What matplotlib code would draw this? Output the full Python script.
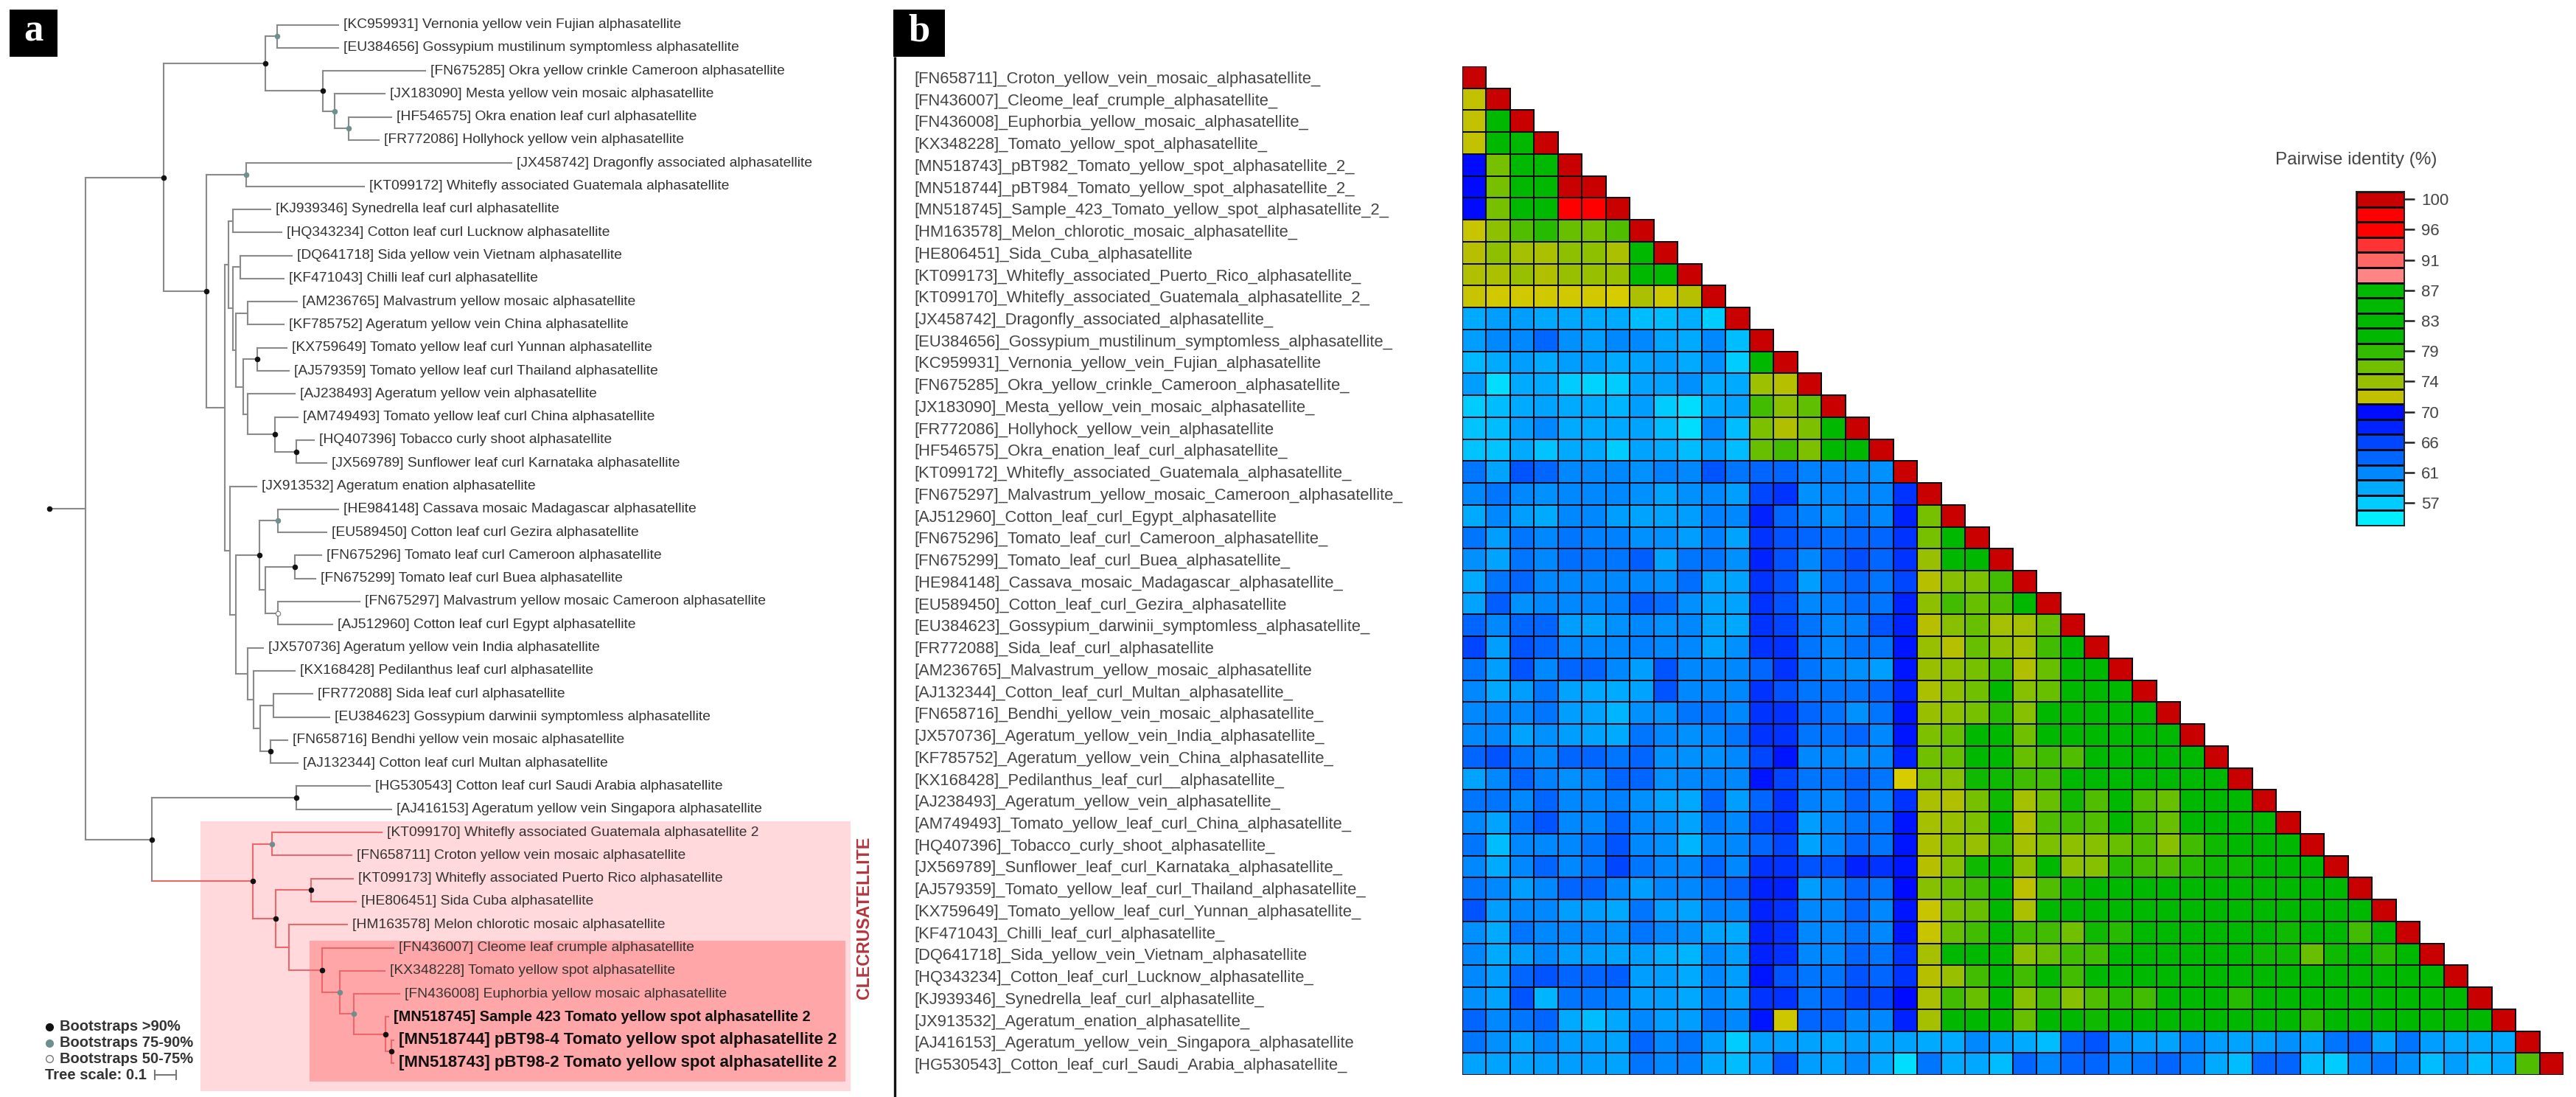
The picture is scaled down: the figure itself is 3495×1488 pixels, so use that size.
import numpy as np
import matplotlib
matplotlib.use("Agg")
import matplotlib.pyplot as plt
from matplotlib.colors import LinearSegmentedColormap, Normalize
from matplotlib.patches import Rectangle

W, H, DPI = 3495, 1488, 100
plt.rcParams['font.family'] = ['Liberation Sans', 'DejaVu Sans']

# ---------- panel b data ----------
row_labels = """[FN658711]_Croton_yellow_vein_mosaic_alphasatellite_
[FN436007]_Cleome_leaf_crumple_alphasatellite_
[FN436008]_Euphorbia_yellow_mosaic_alphasatellite_
[KX348228]_Tomato_yellow_spot_alphasatellite_
[MN518743]_pBT982_Tomato_yellow_spot_alphasatellite_2_
[MN518744]_pBT984_Tomato_yellow_spot_alphasatellite_2_
[MN518745]_Sample_423_Tomato_yellow_spot_alphasatellite_2_
[HM163578]_Melon_chlorotic_mosaic_alphasatellite_
[HE806451]_Sida_Cuba_alphasatellite
[KT099173]_Whitefly_associated_Puerto_Rico_alphasatellite_
[KT099170]_Whitefly_associated_Guatemala_alphasatellite_2_
[JX458742]_Dragonfly_associated_alphasatellite_
[EU384656]_Gossypium_mustilinum_symptomless_alphasatellite_
[KC959931]_Vernonia_yellow_vein_Fujian_alphasatellite
[FN675285]_Okra_yellow_crinkle_Cameroon_alphasatellite_
[JX183090]_Mesta_yellow_vein_mosaic_alphasatellite_
[FR772086]_Hollyhock_yellow_vein_alphasatellite
[HF546575]_Okra_enation_leaf_curl_alphasatellite_
[KT099172]_Whitefly_associated_Guatemala_alphasatellite_
[FN675297]_Malvastrum_yellow_mosaic_Cameroon_alphasatellite_
[AJ512960]_Cotton_leaf_curl_Egypt_alphasatellite
[FN675296]_Tomato_leaf_curl_Cameroon_alphasatellite_
[FN675299]_Tomato_leaf_curl_Buea_alphasatellite_
[HE984148]_Cassava_mosaic_Madagascar_alphasatellite_
[EU589450]_Cotton_leaf_curl_Gezira_alphasatellite
[EU384623]_Gossypium_darwinii_symptomless_alphasatellite_
[FR772088]_Sida_leaf_curl_alphasatellite
[AM236765]_Malvastrum_yellow_mosaic_alphasatellite
[AJ132344]_Cotton_leaf_curl_Multan_alphasatellite_
[FN658716]_Bendhi_yellow_vein_mosaic_alphasatellite_
[JX570736]_Ageratum_yellow_vein_India_alphasatellite_
[KF785752]_Ageratum_yellow_vein_China_alphasatellite_
[KX168428]_Pedilanthus_leaf_curl__alphasatellite_
[AJ238493]_Ageratum_yellow_vein_alphasatellite_
[AM749493]_Tomato_yellow_leaf_curl_China_alphasatellite_
[HQ407396]_Tobacco_curly_shoot_alphasatellite_
[JX569789]_Sunflower_leaf_curl_Karnataka_alphasatellite_
[AJ579359]_Tomato_yellow_leaf_curl_Thailand_alphasatellite_
[KX759649]_Tomato_yellow_leaf_curl_Yunnan_alphasatellite_
[KF471043]_Chilli_leaf_curl_alphasatellite_
[DQ641718]_Sida_yellow_vein_Vietnam_alphasatellite
[HQ343234]_Cotton_leaf_curl_Lucknow_alphasatellite_
[KJ939346]_Synedrella_leaf_curl_alphasatellite_
[JX913532]_Ageratum_enation_alphasatellite_
[AJ416153]_Ageratum_yellow_vein_Singapora_alphasatellite
[HG530543]_Cotton_leaf_curl_Saudi_Arabia_alphasatellite_""".split("\n")

r01 = [100]
r02 = [72, 100]
r03 = [72, 84, 100]
r04 = [72, 84, 84, 100]
r05 = [70, 76, 84, 84, 100]
r06 = [70, 76, 84, 84, 100, 100]
r07 = [70, 76, 84, 84, 96, 96, 100]
r08 = [71.7, 74.8, 77.5, 79, 76.7, 76, 77.5, 100]
r09 = [72.6, 74.8, 73.6, 73.3, 74.8, 74.8, 73.3, 84, 100]
r10 = [73, 73.3, 74.2, 73, 74.2, 74.2, 74.2, 84, 84, 100]
r11 = [71.7, 71.3, 71.3, 71.3, 71.3, 71.3, 71, 73.3, 71.5, 72.6, 100]
r12 = [59.2, 60, 60, 59.3, 59.3, 59.2, 59.2, 58, 58, 59, 57, 100]
r13 = [60, 61.3, 61.3, 63.5, 60.8, 60, 61.3, 61.3, 59.5, 59.2, 61.3, 58, 100]
r14 = [58.3, 59.2, 60, 59.2, 60, 60, 59.2, 59.6, 60, 59.2, 60.8, 57, 84, 100]
r15 = [60, 56, 59.2, 59.2, 57, 56.6, 57, 59.6, 59.6, 60.8, 59.2, 59.2, 74, 72.6, 100]
r16 = [57, 58, 59.2, 59.6, 59.2, 59.2, 58.5, 60, 57, 56, 59.2, 59.6, 78, 75, 77, 100]
r17 = [57.6, 58, 60, 61.3, 59.2, 59.2, 59.3, 59.6, 58, 56, 61.3, 58, 75.7, 73, 75.7, 84, 100]
r18 = [57.6, 57.6, 59.2, 57.6, 59.2, 59.2, 57, 59.6, 59.2, 58, 60, 58, 76.7, 78, 75.7, 84, 84, 100]
r19 = [62.5, 59.6, 64.6, 63.5, 61.3, 61.3, 61.3, 60.8, 61.8, 61.3, 64.6, 62.5, 63.5, 63.5, 61.8, 61.8, 61.3, 60.8, 100]
r20 = [61.3, 62.5, 61.3, 60.8, 61.3, 61.3, 61.3, 60.8, 59.6, 60.8, 61.3, 60, 65.6, 66.7, 60.8, 61.3, 61.3, 61.3, 66.7, 100]
r21 = [59.2, 61.3, 60, 59.2, 61.3, 61.3, 60, 59.6, 59.6, 60, 61.8, 61.3, 67.8, 63.5, 61.8, 60.8, 62.5, 61.3, 67.8, 76, 100]
r22 = [62.5, 60, 62.5, 61.3, 62.5, 61.8, 61.8, 60.8, 60.8, 60, 61.8, 59.6, 66.7, 64.6, 63.5, 63, 63.5, 63.5, 66.7, 76, 84, 100]
r23 = [60.8, 59.6, 62.5, 61.3, 63, 62.5, 62.5, 64, 59.6, 62.5, 62.5, 60.8, 67.8, 64.6, 61.3, 63.5, 65, 63.5, 66.7, 74.2, 84, 84, 100]
r24 = [59.2, 62.5, 63.5, 61.3, 61.3, 61.3, 61.3, 61.3, 60.8, 63, 59.6, 59.6, 66.7, 64.6, 60, 62.5, 63.5, 62.5, 65.6, 72.6, 75.2, 75.7, 78, 100]
r25 = [59.6, 64, 60.8, 61.3, 61.3, 61.3, 61.8, 64, 63, 60.8, 59.6, 59.6, 66.7, 64.6, 61.3, 61.8, 63, 62.5, 67.8, 74.8, 78, 76.7, 77.5, 84, 100]
r26 = [63.5, 61.3, 63.5, 63.5, 60, 59.6, 60.8, 61.3, 60.8, 61.3, 59.6, 59.3, 66.7, 65.6, 62.5, 61.3, 61.8, 64.6, 67.8, 72.6, 75.2, 76.7, 73.6, 73.6, 76.7, 100]
r27 = [65.6, 60, 64.6, 63.5, 61.3, 61.3, 61.3, 61.8, 61.3, 61.3, 59.6, 60.8, 66.7, 66.7, 62.5, 61.3, 62.5, 62.5, 69, 74.2, 72.6, 76.7, 74.8, 73.6, 78, 84, 100]
r28 = [62.5, 60, 64.6, 61.3, 63.5, 63.5, 61.3, 60, 64.6, 61.3, 61.3, 61.3, 63.5, 66.7, 62.5, 61.3, 60.8, 60, 69, 74.2, 74.8, 76, 78, 73, 76.7, 84, 84, 100]
r29 = [61.3, 59.3, 60, 62.5, 59.6, 59.3, 59.2, 59.6, 64.6, 61.3, 61.3, 61.3, 66.7, 64.6, 62.5, 62.5, 62.5, 63.5, 67.8, 73.3, 74.8, 76.4, 84, 75.2, 76.7, 84, 84, 84, 100]
r30 = [61.3, 61.3, 61.3, 62.5, 60, 59.6, 58.5, 60.8, 60.8, 62.5, 62.5, 61.3, 66.7, 66.7, 63.5, 62.5, 60.8, 62.5, 69, 74.2, 74.8, 76, 79, 75.2, 84, 84, 84, 84, 84, 100]
r31 = [61.3, 61.3, 59.6, 60.8, 60, 59.6, 59.2, 62.5, 61.3, 60.8, 61.3, 62.5, 66.7, 66.7, 62.5, 62.5, 63.5, 61.3, 69, 75.7, 76.7, 84, 84, 76.4, 84, 84, 84, 84, 84, 84, 100]
r32 = [63.5, 64.6, 62.5, 61.3, 63.5, 63.5, 62.5, 63.5, 60.8, 60.8, 60.8, 61.3, 65.6, 69, 61.3, 61.3, 60.8, 61.3, 67.8, 76.4, 76.7, 84, 84, 76.7, 78, 77.5, 84, 84, 84, 84, 84, 100]
r33 = [59.6, 61.3, 63.5, 61.8, 60.8, 61.3, 63.5, 63.5, 60.8, 61.3, 61.8, 61.3, 69, 65.6, 62.5, 62.5, 63.5, 62.5, 71, 75.7, 75.2, 80, 80, 78, 78, 84, 84, 84, 84, 84, 84, 84, 100]
r34 = [62.5, 62.5, 61.3, 63.5, 61.3, 61.3, 61.8, 60.8, 59.6, 59.3, 63.5, 60, 63.5, 66.7, 61.8, 61.3, 63.5, 61.8, 66.7, 73.3, 73, 76, 80, 73.6, 76.7, 80, 77.5, 84, 77.5, 76.7, 84, 84, 84, 100]
r35 = [61.3, 59.6, 62.5, 64.6, 61.3, 61.3, 63.5, 61.3, 60.8, 59.6, 62.5, 61.3, 65.6, 66.7, 60, 61.3, 62.5, 62.5, 69, 73.6, 74.2, 75.7, 84, 73, 77.5, 78, 77.5, 84, 78, 76.7, 84, 84, 84, 84, 100]
r36 = [62.5, 58, 61.3, 61.3, 61.3, 62.5, 64.6, 61.3, 60.8, 58.5, 61.3, 61.3, 63.5, 65.6, 59.6, 61.3, 63.5, 62.5, 69, 73.3, 74.8, 74.2, 78, 73.6, 75.7, 74.8, 75.2, 76.7, 77.5, 75.2, 78, 80, 84, 84, 84, 100]
r37 = [61.3, 59.2, 61.3, 63.5, 61.3, 62.5, 65.6, 62.5, 61.3, 61.3, 63.5, 61.3, 66.7, 66.7, 64.6, 64.6, 67.8, 66.7, 69, 72.6, 75.2, 80, 84, 74.8, 84, 74.8, 75.2, 79, 78, 77.5, 79, 80, 80, 84, 84, 84, 100]
r38 = [62.5, 61.3, 60, 61.3, 63.5, 63.5, 61.3, 60, 61.3, 61.3, 62.5, 63.5, 67.8, 67.8, 60, 61.3, 63.5, 62.5, 70, 75.2, 76.7, 78, 84, 72.3, 77.5, 80, 84, 84, 84, 84, 84, 84, 84, 84, 84, 84, 84, 100]
r39 = [64.6, 60, 61.3, 61.3, 60, 60, 59.3, 62.5, 60, 59.6, 61.8, 61.3, 67.8, 66.7, 61.3, 61.3, 63.5, 61.3, 69, 71.7, 75.7, 76.7, 84, 73.3, 84, 84, 84, 84, 84, 84, 84, 84, 84, 84, 84, 84, 84, 84, 100]
r40 = [60.8, 59.2, 62.5, 61.3, 61.3, 61.3, 60.8, 62.5, 61.3, 60.8, 59.6, 59.2, 67.8, 66.7, 61.3, 61.3, 62.5, 61.3, 69, 71.7, 76.7, 78, 84, 78, 78, 76.4, 80, 79, 84, 84, 84, 84, 84, 84, 80, 84, 84, 78, 84, 100]
r41 = [61.3, 59.2, 60, 61.3, 60, 60, 59.6, 60, 59, 58.5, 61.3, 60, 67.8, 66.7, 61.3, 61.3, 63.5, 62.5, 66.7, 73.6, 84, 84, 84, 74.8, 76.7, 78, 78, 84, 84, 84, 84, 84, 84, 80, 80, 76.7, 80, 84, 79, 84, 100]
r42 = [61.3, 60, 63.5, 64.6, 63.5, 63.5, 64, 60, 60, 59.2, 61.3, 60, 69, 64.6, 62.5, 62.5, 64.6, 63.5, 66.7, 72.6, 74.2, 78, 84, 78, 84, 78, 84, 84, 84, 84, 84, 84, 84, 84, 84, 84, 84, 84, 84, 84, 84, 100]
r43 = [60.8, 59.6, 64.6, 58.5, 62.5, 62.5, 61.8, 60, 60, 59.3, 61.3, 60, 66.7, 66.7, 62.5, 63.5, 65.6, 65.6, 70, 73.3, 78, 76.7, 84, 75.2, 78, 75.2, 77.5, 79, 78, 84, 84, 84, 79, 84, 84, 84, 84, 84, 84, 84, 84, 84, 100]
r44 = [63.5, 61.3, 62.5, 63.5, 59.2, 58, 59.3, 61.3, 60, 60, 62.5, 61.3, 69, 71.5, 63.5, 63.5, 61.3, 61.3, 67.8, 73.6, 84, 84, 84, 76.7, 84, 84, 80, 84, 84, 84, 84, 84, 84, 84, 84, 79, 84, 84, 84, 84, 84, 84, 84, 100]
r45 = [62.5, 60.8, 59.6, 61.3, 60, 60, 59.6, 63.5, 61.3, 62.5, 60, 57, 60, 60, 59.6, 59.3, 60, 59.6, 59.6, 59.2, 59.2, 61.3, 60, 59.2, 58, 63.5, 64.6, 60.8, 60, 59.6, 61.3, 60, 59.6, 60, 60.8, 59.6, 62.5, 63.5, 59.6, 62.5, 60, 59.2, 59.2, 59.2, 100]
r46 = [59.6, 59.6, 59.6, 60, 60, 60, 59.6, 62.5, 61.3, 61.8, 59.3, 58, 60, 64.6, 60, 59.6, 61.3, 59.3, 56, 62.5, 59.2, 59.3, 58, 63.5, 61.3, 63.5, 63.5, 61.3, 62.5, 63.5, 61.8, 59.2, 58, 63.5, 63.5, 58, 57, 61.3, 62.5, 60.8, 58, 60, 58, 59.2, 77.5, 100]
identity_rows = [r01, r02, r03, r04, r05, r06, r07, r08, r09, r10, r11, r12, r13, r14, r15, r16,
                 r17, r18, r19, r20, r21, r22, r23, r24, r25, r26, r27, r28, r29, r30, r31, r32,
                 r33, r34, r35, r36, r37, r38, r39, r40, r41, r42, r43, r44, r45, r46]

bar_ticks = [100, 96, 91, 87, 83, 79, 74, 70, 66, 61, 57]
bar_levels = [100, 97.9, 95.7, 93.6, 91.4, 89.3, 87.1, 84.9, 82.8, 80.6, 78.5, 76.4, 74.2, 72.1,
              69.9, 67.8, 65.6, 63.5, 61.3, 59.2, 57, 54.9]

# ---------- panel a data: (leaf label | None, branch length, support, children) ----------
def L(name, length):
    return (name, length, None, [])
def N(length, support, *kids):
    return (None, length, support, list(kids))

clecru = N(175, 'b',
    N(33, 'g', L('[KT099170] Whitefly associated Guatemala alphasatellite 2', 190),
               L('[FN658711] Croton yellow vein mosaic alphasatellite', 138)),
    N(40, 'b',
      N(61, 'b', L('[KT099173] Whitefly associated Puerto Rico alphasatellite', 72),
                 L('[HE806451] Sida Cuba alphasatellite', 77)),
      N(23, None,
        L('[HM163578] Melon chlorotic mosaic alphasatellite', 100),
        N(57, 'b',
          L('[FN436007] Cleome leaf crumple alphasatellite', 123),
          N(30, 'g',
            L('[KX348228] Tomato yellow spot alphasatellite', 78),
            N(24, 'g',
              L('[FN436008] Euphorbia yellow mosaic alphasatellite', 79),
              N(56, 'b',
                L('[MN518745] Sample 423 Tomato yellow spot alphasatellite 2', 5),
                N(10, 'b', L('[MN518744] pBT98-4 Tomato yellow spot alphasatellite 2', 3),
                           L('[MN518743] pBT98-2 Tomato yellow spot alphasatellite 2', 3)))))))))

tree = N(0, 'b',
  N(62, None,
    N(135, 'b',
      N(176, 'b',
        N(21, 'g', L('[KC959931] Vernonia yellow vein Fujian alphasatellite', 106),
                   L('[EU384656] Gossypium mustilinum symptomless alphasatellite', 106)),
        N(100, 'b',
          L('[FN675285] Okra yellow crinkle Cameroon alphasatellite', 177),
          N(20, 'g',
            L('[JX183090] Mesta yellow vein mosaic alphasatellite', 87),
            N(25, 'g', L('[HF546575] Okra enation leaf curl alphasatellite', 74),
                       L('[FR772086] Hollyhock yellow vein alphasatellite', 52))))),
      N(75, 'b',
        N(68, 'g', L('[JX458742] Dragonfly associated alphasatellite', 460),
                   L('[KT099172] Whitefly associated Guatemala alphasatellite', 205)),
        N(31, None,
          N(7, None,
            N(7, None, L('[KJ939346] Synedrella leaf curl alphasatellite', 66),
                       L('[HQ343234] Cotton leaf curl Lucknow alphasatellite', 85)),
            N(7, None,
              N(13, None, L('[DQ641718] Sida yellow vein Vietnam alphasatellite', 90),
                          L('[KF471043] Chilli leaf curl alphasatellite', 75)),
              N(6, None,
                N(20, None, L('[AM236765] Malvastrum yellow mosaic alphasatellite', 85),
                            L('[KF785752] Ageratum yellow vein China alphasatellite', 62)),
                N(12, None,
                  N(25, 'b', L('[KX759649] Tomato yellow leaf curl Yunnan alphasatellite', 50),
                             L('[AJ579359] Tomato yellow leaf curl Thailand alphasatellite', 55)),
                  N(8, None,
                    L('[AJ238493] Ageratum yellow vein alphasatellite', 82),
                    N(47, 'b',
                      L('[AM749493] Tomato yellow leaf curl China alphasatellite', 40),
                      N(37, 'b', L('[HQ407396] Tobacco curly shoot alphasatellite', 31),
                                 L('[JX569789] Sunflower leaf curl Karnataka alphasatellite', 53)))))))),
          N(10, None,
            L('[JX913532] Ageratum enation alphasatellite', 45),
            N(10, None,
              N(40, 'b',
                N(32, 'g', L('[HE984148] Cassava mosaic Madagascar alphasatellite', 105),
                           L('[EU589450] Cotton leaf curl Gezira alphasatellite', 85)),
                N(10, None,
                  N(52, 'b', L('[FN675296] Tomato leaf curl Cameroon alphasatellite', 45),
                             L('[FN675299] Tomato leaf curl Buea alphasatellite', 35)),
                  N(22, 'w', L('[FN675297] Malvastrum yellow mosaic Cameroon alphasatellite', 142),
                             L('[AJ512960] Cotton leaf curl Egypt alphasatellite', 95)))),
              N(20, None,
                L('[JX570736] Ageratum yellow vein India alphasatellite', 27),
                N(10, None,
                  L('[KX168428] Pedilanthus leaf curl alphasatellite', 72),
                  N(12, None,
                    N(22, None, L('[FR772088] Sida leaf curl alphasatellite', 68),
                                L('[EU384623] Gossypium darwinii symptomless alphasatellite', 98)),
                    N(18, 'b', L('[FN658716] Bendhi yellow vein mosaic alphasatellite', 29),
                               L('[AJ132344] Cotton leaf curl Multan alphasatellite', 47)))))))))),
    N(115, 'b',
      N(250, 'b', L('[HG530543] Cotton leaf curl Saudi Arabia alphasatellite', 128),
                  L('[AJ416153] Ageratum yellow vein Singapora alphasatellite', 165)),
      clecru)))

bootstrap_legend = [('b', 'Bootstraps >90%'), ('g', 'Bootstraps 75-90%'), ('w', 'Bootstraps 50-75%')]
cluster_name = 'CLECRUSATELLITE'

# ---------- figure ----------
fig = plt.figure(figsize=(W / DPI, H / DPI), dpi=DPI, facecolor='white')
px = fig.add_axes([0, 0, 1, 1])
px.set_xlim(0, W); px.set_ylim(H, 0); px.axis('off')

def box(x0, y0, x1, y1):
    return [x0 / W, 1 - y1 / H, (x1 - x0) / W, (y1 - y0) / H]

# panel tags and divider
for x0, x1, tag in [(13, 78, 'a'), (1212, 1282, 'b')]:
    px.add_patch(Rectangle((x0, 13), x1 - x0, 64, fc='black', ec='none', zorder=5))
    px.text((x0 + x1) / 2, 43, tag, color='white', fontsize=38, fontweight='bold',
            family='Liberation Serif', ha='center', va='center', zorder=6)
px.plot([1214, 1214], [77, H], color='#111111', lw=2.4, solid_capstyle='butt')

# clade shading
px.add_patch(Rectangle((272, 1114), 882, 366, fc='#FFD9DC', ec='none', zorder=0))
px.add_patch(Rectangle((420, 1276), 727, 191, fc='#FFA6A8', ec='none', zorder=0.5))
px.text(1172, 1245, cluster_name, rotation=90, color='#B5343C', fontsize=16.7, fontweight='bold',
        ha='center', va='center')

# tree
TREE_X0, TREE_SCALE = 67.0, 1 / 1.275
LEAF_Y0, LEAF_DY = 33.5, 31.3
GREY, RED = '#8A8A8A', '#E8686C'
SUP = {'b': dict(mfc='#111111', mec='#111111'),
       'g': dict(mfc='#6E8F8F', mec='#6E8F8F'),
       'w': dict(mfc='white', mec='#777777')}
counter = [0]

def draw(node, x_parent, colour):
    name, length, sup, kids = node
    x = x_parent + length * TREE_SCALE
    c = RED if node is clecru else colour
    if not kids:
        y = LEAF_Y0 + LEAF_DY * counter[0]
        counter[0] += 1
        bold = name.startswith('[MN')
        size = 13.9
        if bold:
            size = 14.4 if 'Sample' in name else 16.0
        px.text(x + 7, y, name, fontsize=size, va='center', ha='left',
                color='#111111' if bold else '#333333', fontweight='bold' if bold else 'normal',
                zorder=4)
    else:
        ys = [draw(k, x, c) for k in kids]
        y = (ys[0] + ys[-1]) / 2
        px.plot([x, x], [ys[0], ys[-1]], color=c, lw=1.5, solid_capstyle='projecting', zorder=2)
        if sup:
            px.plot([x], [y], 'o', ms=4.6, mew=0.8, zorder=3, **SUP[sup])
    px.plot([x_parent, x], [y, y], color=colour if node is not clecru else RED, lw=1.5, zorder=2)
    return y

draw(tree, TREE_X0, GREY)

# tree legend
for i, (s, t) in enumerate(bootstrap_legend):
    yy = 1393 + 21.7 * i
    px.plot([67], [yy], 'o', ms=7, mew=1, **SUP[s])
    px.text(81, yy, t, fontsize=14.5, fontweight='bold', color='#333333', va='center', ha='left')
px.text(61, 1459, 'Tree scale: 0.1', fontsize=14.5, fontweight='bold', color='#333333',
        va='center', ha='left')
SCALE_LEN = 37
px.plot([210, 210 + SCALE_LEN * TREE_SCALE], [1458, 1458], color='#777777', lw=1.5)
for xx in (210, 210 + SCALE_LEN * TREE_SCALE):
    px.plot([xx, xx], [1452, 1464], color='#777777', lw=1.5)

# heat map
cmap_nodes = [(54.9, '#00EEFF'), (57, '#00CCFF'), (59.2, '#00AAFF'), (61.3, '#0088FF'),
              (63.5, '#0066FF'), (65.6, '#0044FF'), (67.8, '#0022FF'), (70.9, '#0000FF'),
              (70.95, '#D8CC00'), (72.1, '#C0C000'), (74.2, '#99C000'), (76.4, '#70C000'),
              (78.5, '#33BB00'), (80.6, '#00B800'), (88, '#00B800'), (88.05, '#FF9999'),
              (91.4, '#FF6666'), (93.6, '#FF3333'), (95.7, '#FF0000'), (97.9, '#FF0000'), (100, '#C80000')]
vmin, vmax = 54.9, 100
cmap = LinearSegmentedColormap.from_list(
    'identity', [((v - vmin) / (vmax - vmin), c) for v, c in cmap_nodes], N=1024)
norm = Normalize(vmin, vmax)

n = len(identity_rows)
hm = fig.add_axes(box(1984, 90, 3478, 1458))
for i, row in enumerate(identity_rows):
    hm.pcolormesh(np.arange(len(row) + 1), [i, i + 1], np.array([row], dtype=float), cmap=cmap, norm=norm,
                  edgecolors='#0A0A14', linewidth=1.1)
hm.set_xlim(0, n); hm.set_ylim(n, 0)
hm.set_facecolor('none')
for s in hm.spines.values():
    s.set_visible(False)
hm.set_xticks([])
hm.set_yticks(np.arange(n) + 0.5)
hm.set_yticklabels(row_labels, fontsize=15.8, color='#444444', ha='left')
hm.tick_params(axis='y', length=0, pad=(1984 - 1240) * 72 / DPI)

# colour key
cb = fig.add_axes(box(3197, 260, 3262, 713))
lv = np.array(bar_levels)[:, None]
cb.pcolormesh([0, 1], np.arange(len(lv) + 1), lv, cmap=cmap, norm=norm,
              edgecolors='#0A0A14', linewidth=1.0)
cb.set_xlim(0, 1); cb.set_ylim(len(lv), 0)
cb.set_xticks([])
cb.set_yticks(np.arange(0, len(lv), 2) + 0.5)
cb.set_yticklabels([str(t) for t in bar_ticks], fontsize=16, color='#444444')
cb.yaxis.tick_right()
cb.tick_params(axis='y', length=10, width=1.8, pad=6.5, color='#222222')
for s in cb.spines.values():
    s.set_linewidth(1.4); s.set_color('#222222')
px.text(3197, 217, 'Pairwise identity (%)', fontsize=17.5, color='#444444', ha='center', va='center')

fig.savefig('out.png', dpi=DPI, facecolor='white')
